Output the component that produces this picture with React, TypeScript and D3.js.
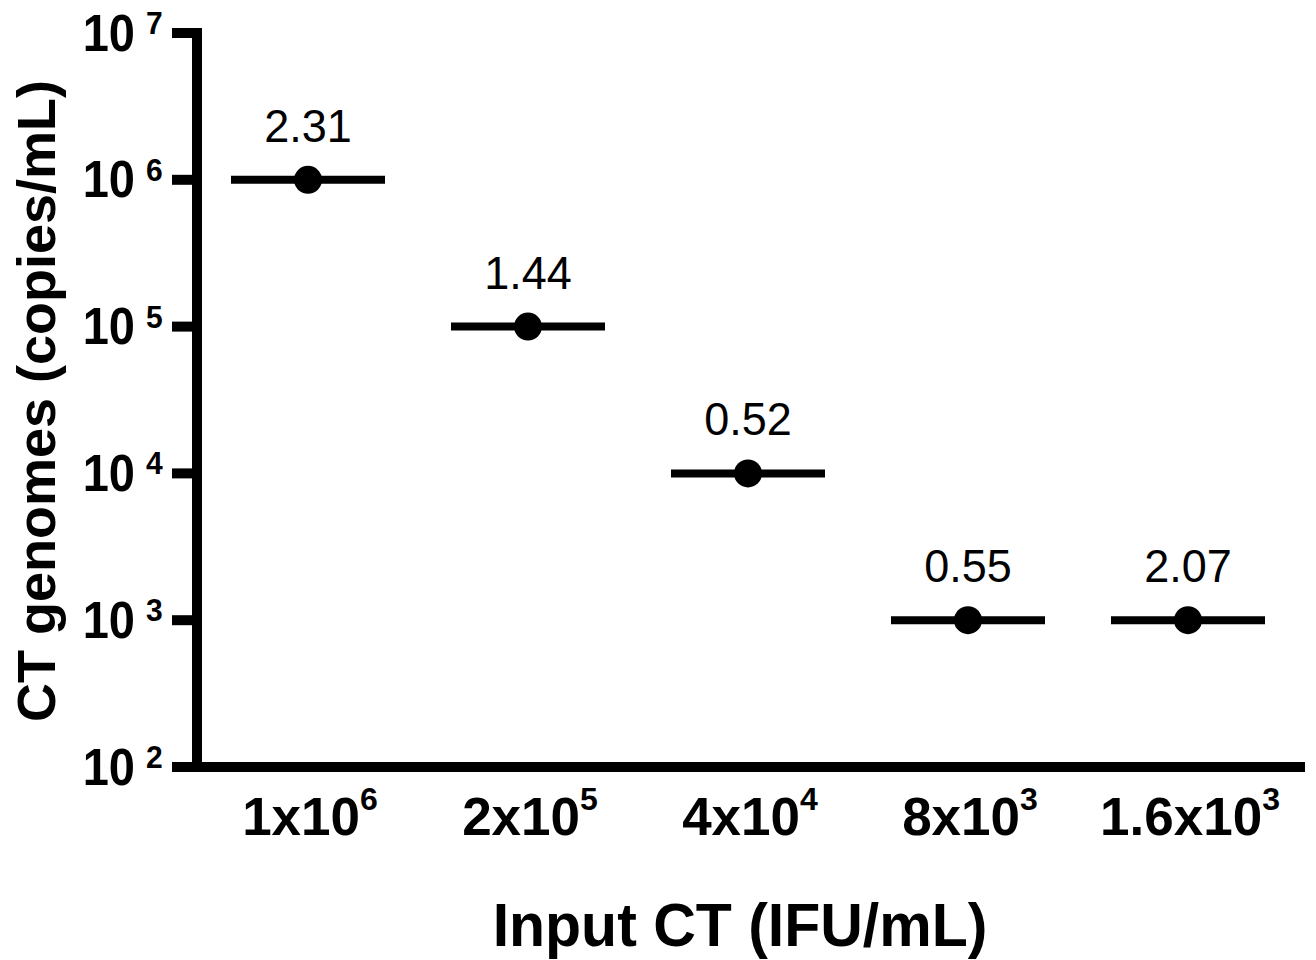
import * as d3 from "d3";

const categories = ["1x10^6", "2x10^5", "4x10^4", "8x10^3", "1.6x10^3"];
const tickBase = ["1x10", "2x10", "4x10", "8x10", "1.6x10"];
const tickExp = ["6", "5", "4", "3", "3"];
const medians = [1e6, 1e5, 1e4, 1e3, 1e3];
const valueLabels = ["2.31", "1.44", "0.52", "0.55", "2.07"];
const yTicks = [1e2, 1e3, 1e4, 1e5, 1e6, 1e7];

const W = 1316;
const H = 960;
const FONT = "'Liberation Sans', Arial, Helvetica, sans-serif";

export default function App() {
  const axisX = 197;
  const axisRight = 1305;

  const x = d3.scalePoint<string>().domain(categories).range([308, 1188]);
  const y = d3.scaleLog().domain([1e2, 1e7]).range([767, 33]);

  const halfBar = 77;

  return (
    <svg
      width={W}
      height={H}
      viewBox={`0 0 ${W} ${H}`}
      style={{ position: "absolute", left: 0, top: 0, background: "#fff" }}
      fontFamily={FONT}
    >
      {/* y axis */}
      <line x1={axisX} x2={axisX} y1={y(1e7) - 5} y2={y(1e2) + 5} stroke="#000" strokeWidth={10} />
      {yTicks.map((t) => {
        const ty = y(t);
        const exp = Math.round(Math.log10(t));
        return (
          <g key={t}>
            <line x1={172} x2={axisX} y1={ty} y2={ty} stroke="#000" strokeWidth={10} />
            <text
              transform={`translate(135,${ty + 17.5}) scale(1,1.1)`}
              textAnchor="end"
              fontSize={47}
              fontWeight="bold"
            >
              10
            </text>
            <text transform={`translate(146,${ty + 1}) scale(1,1.05)`} fontSize={30} fontWeight="bold">
              {exp}
            </text>
          </g>
        );
      })}

      {/* x axis */}
      <line x1={172} x2={axisRight} y1={y(1e2)} y2={y(1e2)} stroke="#000" strokeWidth={10} />
      {categories.map((c, i) => (
        <text key={c} x={x(c)! + 2} y={835} textAnchor="middle" fontWeight="bold" fontSize={53}>
          {tickBase[i]}
          <tspan dx={0} dy={-25} fontSize={32}>
            {tickExp[i]}
          </tspan>
        </text>
      ))}

      {/* medians, points, labels */}
      {categories.map((c, i) => {
        const cx = x(c)!;
        const cy = y(medians[i]);
        return (
          <g key={"m" + c}>
            <line x1={cx - halfBar} x2={cx + halfBar} y1={cy} y2={cy} stroke="#000" strokeWidth={8} />
            <circle cx={cx} cy={cy} r={14} fill="#000" />
            <text
              transform={`translate(${cx},${cy - 38}) scale(1,1.04)`}
              textAnchor="middle"
              fontSize={45}
            >
              {valueLabels[i]}
            </text>
          </g>
        );
      })}

      {/* axis titles */}
      <text
        transform="translate(740,946) scale(1,1.05)"
        textAnchor="middle"
        fontWeight="bold"
        fontSize={59}
      >
        Input CT (IFU/mL)
      </text>
      <text
        transform={`translate(55,401) rotate(-90)`}
        textAnchor="middle"
        fontWeight="bold"
        fontSize={54}
      >
        CT genomes (copies/mL)
      </text>
    </svg>
  );
}
